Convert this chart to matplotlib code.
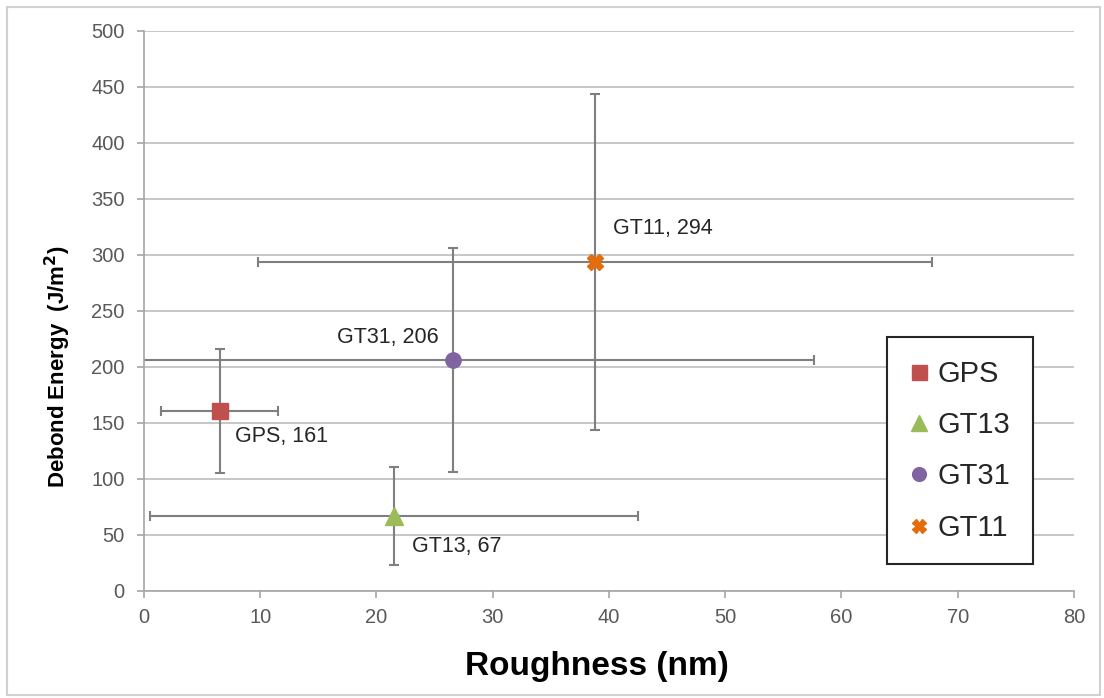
import matplotlib
matplotlib.use("Agg")
import matplotlib.pyplot as plt
from matplotlib.patches import Rectangle

plt.rcParams['font.family'] = ['Liberation Sans', 'DejaVu Sans']

names = ["GPS", "GT13", "GT31", "GT11"]
roughness = [6.5, 21.5, 26.6, 38.8]
energy = [161, 67, 206, 294]
rough_err = [5, 21, 31, 29]
energy_err = [55.5, 44, 100, 150]
labels = ["GPS, 161", "GT13, 67", "GT31, 206", "GT11, 294"]

colors = ["#C0504D", "#9BBB59", "#8064A2", "#E46C0A"]
markers = ["s", "^", "o", "X"]
msizes = [12, 13, 11, 11]
label_offsets = [(15, -26, 'left'), (18, -31, 'left'), (-15, 23, 'right'), (18, 33, 'left')]

fig = plt.figure(figsize=(11.04, 6.98), dpi=100)
ax = fig.add_axes([0.1304, 0.1533, 0.8424, 0.8023])

fig.patches.append(Rectangle((0.006, 0.004), 0.99, 0.986, transform=fig.transFigure,
                             fill=False, edgecolor="#D0D0D0", linewidth=1.5))

ax.set_xlim(0, 80)
ax.set_ylim(0, 500)
ax.set_xticks(range(0, 81, 10))
ax.set_yticks(range(0, 501, 50))
ax.grid(axis='y', color='#BDBDBD', linewidth=1.2)
ax.set_axisbelow(True)
for s in ['top', 'right']:
    ax.spines[s].set_visible(False)
for s in ['left', 'bottom']:
    ax.spines[s].set_color('#A6A6A6')
    ax.spines[s].set_linewidth(1.2)
ax.tick_params(axis='both', colors='#A6A6A6', length=5, width=1.2, labelcolor='#595959',
               labelsize=14.5, direction='out')
ax.tick_params(axis='x', pad=7)
ax.tick_params(axis='y', pad=9)

for i in range(len(names)):
    ax.errorbar(roughness[i], energy[i], xerr=rough_err[i], yerr=energy_err[i],
                fmt='none', ecolor='#7F7F7F', elinewidth=1.5, capsize=3.5, capthick=1.5,
                zorder=2)
    ax.plot(roughness[i], energy[i], linestyle='none', marker=markers[i],
            markersize=msizes[i], color=colors[i], markeredgecolor=colors[i],
            label=names[i], zorder=3)
    dx, dy, ha = label_offsets[i]
    ax.annotate(labels[i], (roughness[i], energy[i]), xytext=(dx, dy),
                textcoords='offset pixels', ha=ha, va='center', fontsize=15.5,
                color='#262626')

ax.set_xlabel("Roughness (nm)", fontsize=24, fontweight='bold')
ax.xaxis.set_label_coords(0.487, -0.107)
ax.set_ylabel("Debond Energy  (J/m$^\\mathbf{2}$)", fontsize=16, fontweight='bold')
ax.yaxis.set_label_coords(-0.076, 0.40)

leg = ax.legend(loc='upper left', bbox_to_anchor=(0.799, 0.4536), fontsize=21,
                frameon=True, fancybox=False, framealpha=1, edgecolor='#262626',
                handlelength=0.6, handletextpad=0.35, labelspacing=0.8,
                borderpad=0.78, borderaxespad=0, markerscale=0.9)
leg.get_frame().set_linewidth(1.5)
for t in leg.get_texts():
    t.set_color('#262626')

fig.savefig("out.png", dpi=100)
